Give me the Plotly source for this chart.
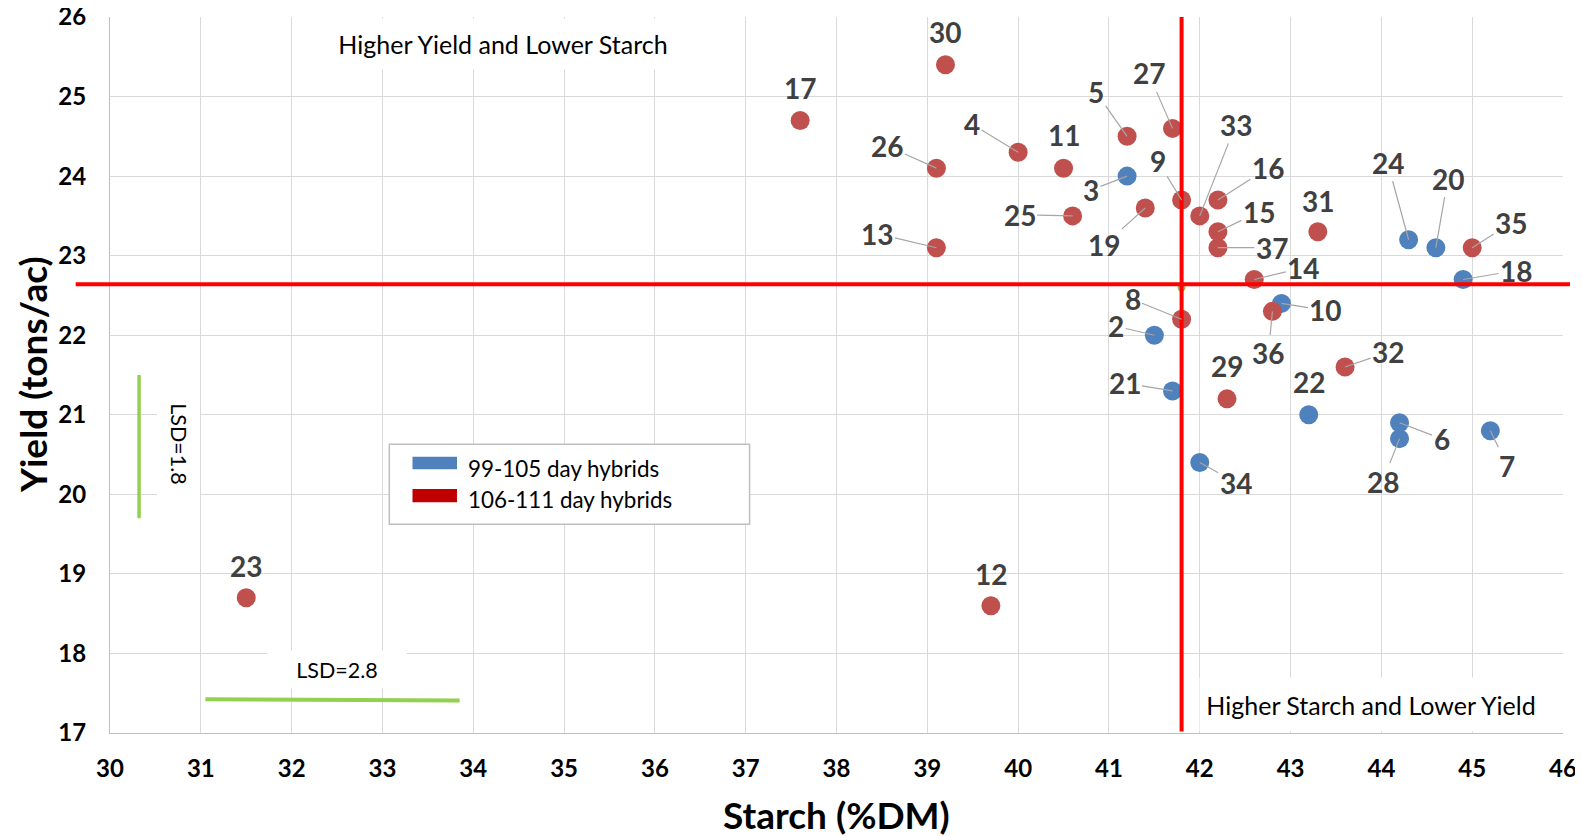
import plotly.graph_objects as go

# ---------------- data ----------------
# 99-105 day hybrids
early_ids = [3, 10, 2, 18, 21, 22, 6, 28, 7, 34, 24, 20]
early_starch = [41.2, 42.9, 41.5, 44.9, 41.7, 43.2, 44.2, 44.2, 45.2, 42.0, 44.3, 44.6]
early_yield = [24.0, 22.4, 22.0, 22.7, 21.3, 21.0, 20.9, 20.7, 20.8, 20.4, 23.2, 23.1]

# 106-111 day hybrids
late_ids = [5, 27, 11, 9, 16, 19, 33, 25, 15, 37, 31, 14, 36, 8, 29, 32,
            30, 17, 4, 26, 13, 35, 23, 12]
late_starch = [41.2, 41.7, 40.5, 41.8, 42.2, 41.4, 42.0, 40.6, 42.2, 42.2, 43.3, 42.6,
               42.8, 41.8, 42.3, 43.6, 39.2, 37.6, 40.0, 39.1, 39.1, 45.0, 31.5, 39.7]
late_yield = [24.5, 24.6, 24.1, 23.7, 23.7, 23.6, 23.5, 23.5, 23.3, 23.1, 23.3, 22.7,
              22.3, 22.2, 21.2, 21.6, 25.4, 24.7, 24.3, 24.1, 23.1, 23.1, 18.7, 18.6]

mean_starch = 41.8
mean_yield = 22.64
lsd_starch = 2.8
lsd_yield = 1.8
lsd_starch_start = 31.05
lsd_starch_level = 17.42
lsd_yield_start = 19.7
lsd_yield_level = 30.32

x_ticks = list(range(30, 47))
y_ticks = list(range(17, 27))

series_names = ["99-105 day hybrids", "106-111 day hybrids"]

# label placement (pixel offsets from point, leader line shown?)
label_offsets = {
    3: (-36, 14, True), 10: (44, 7, True), 2: (-38, -9, True), 18: (53, -9, True),
    21: (-48, -8, True), 22: (0, -33, False), 6: (42, 16, True), 28: (-17, 43, True),
    7: (17, 35, True), 34: (36, 20, True), 24: (-21, -77, True), 20: (12, -69, True),
    5: (-31, -44, True), 27: (-24, -55, True), 11: (0, -33, False), 9: (-24, -39, True),
    16: (50, -32, True), 19: (-41, 37, True), 33: (36, -91, True), 25: (-53, -1, True),
    15: (41, -20, True), 37: (54, 0, True), 31: (0, -31, False), 14: (49, -12, True),
    36: (-4, 42, True), 8: (-49, -20, True), 29: (0, -33, False), 32: (43, -15, True),
    30: (0, -33, False), 17: (0, -32, False), 4: (-46, -28, True), 26: (-49, -22, True),
    13: (-59, -14, True), 35: (39, -25, True), 23: (0, -32, False), 12: (0, -32, False),
}

BLUE = "#4F81BD"
RED = "#C0504D"
LEGEND_RED = "#C00000"
GREEN = "#92D050"
FONT = "Lato"

# page offset of the figure (body margin) and plot-area geometry in page px
PAGE = 8
SL, ST, W, H = 110, 17, 1453, 716
FIG_W, FIG_H = 1583, 836


def px(xp):
    return (xp - SL) / W


def py(yp):
    return 1 - (yp - ST) / H


fig = go.Figure()

fig.add_trace(go.Scatter(
    x=[mean_starch], y=[mean_yield - 0.04], mode="markers",
    marker=dict(size=8, color="#9BBB59"), showlegend=False, hoverinfo="skip"))

fig.add_trace(go.Scatter(
    x=early_starch, y=early_yield, mode="markers", name=series_names[0],
    marker=dict(size=19, color=BLUE), showlegend=False))
fig.add_trace(go.Scatter(
    x=late_starch, y=late_yield, mode="markers", name=series_names[1],
    marker=dict(size=19, color=RED), showlegend=False))

annotations = []
for ids, xs, ys in [(early_ids, early_starch, early_yield), (late_ids, late_starch, late_yield)]:
    for i, xv, yv in zip(ids, xs, ys):
        ax, ay, leader = label_offsets[i]
        annotations.append(dict(
            x=xv, y=yv, xref="x", yref="y", text=str(i), showarrow=True,
            ax=ax, ay=ay, arrowhead=0, arrowwidth=1.2, standoff=0,
            arrowcolor="#A6A6A6" if leader else "rgba(0,0,0,0)",
            font=dict(family=FONT, size=28, color="#404040", weight="bold")))


def note(text, xc, yc, w, h, size, angle=0, align="center"):
    return dict(xref="paper", yref="paper", x=px(xc), y=py(yc), xanchor="center",
                yanchor="middle", text=text, showarrow=False, bgcolor="white",
                width=w, height=h, borderpad=0, textangle=angle, align=align,
                font=dict(family=FONT, size=size, color="black"))


# quadrant notes
annotations.append(note("Higher Yield and Lower Starch", 502.5, 44, 360, 50, 25))
annotations.append(note("Higher Starch and Lower Yield", 1371, 704, 342, 53, 25))
# LSD notes
annotations.append(note("LSD=1.8", 179, 443.5, 125, 42, 21.5, angle=90))
annotations.append(note("LSD=2.8", 337, 669.5, 138, 37, 21.5))

# legend texts
for name, yc in [(series_names[0], 469), (series_names[1], 499)]:
    annotations.append(dict(
        xref="paper", yref="paper", x=px(466), y=py(yc),
        xanchor="left", yanchor="middle", text=name, showarrow=False,
        font=dict(family=FONT, size=22.4, color="black")))

# axis titles
annotations.append(dict(
    xref="paper", yref="paper", x=px(32), y=0.5, textangle=-90,
    text="Yield (tons/ac)", showarrow=False, xanchor="center", yanchor="middle",
    font=dict(family=FONT, size=37, color="black", weight="bold")))
annotations.append(dict(
    xref="paper", yref="paper", x=0.5, y=py(815),
    text="Starch (%DM)", showarrow=False, xanchor="center", yanchor="middle",
    font=dict(family=FONT, size=37, color="black", weight="bold")))

shapes = [
    # white patch behind the right part of the lower-right note (extends past plot edge)
    dict(type="rect", xref="paper", yref="paper", x0=px(1540), x1=px(1566),
         y0=py(730.5), y1=py(678), fillcolor="white", line=dict(width=0), layer="above"),
    # mean lines
    dict(type="line", xref="paper", yref="y", x0=px(75.7), x1=px(1570),
         y0=mean_yield, y1=mean_yield, line=dict(color="#FF0000", width=4), layer="above"),
    dict(type="line", xref="x", yref="y", x0=mean_starch, x1=mean_starch,
         y0=17.02, y1=26, line=dict(color="#FF0000", width=4), layer="above"),
    # LSD bars
    dict(type="line", xref="x", yref="y", x0=lsd_yield_level, x1=lsd_yield_level,
         y0=lsd_yield_start, y1=lsd_yield_start + lsd_yield,
         line=dict(color=GREEN, width=3.5), layer="above"),
    dict(type="line", xref="x", yref="y", x0=lsd_starch_start, x1=lsd_starch_start + lsd_starch,
         y0=lsd_starch_level + 0.005, y1=lsd_starch_level - 0.01,
         line=dict(color=GREEN, width=4), layer="above"),
    # legend box
    dict(type="rect", xref="paper", yref="paper",
         x0=px(389.3), x1=px(749.6), y0=py(524.3), y1=py(444.3),
         fillcolor="white", line=dict(color="#BFBFBF", width=1.5), layer="above"),
    dict(type="rect", xref="paper", yref="paper",
         x0=px(412.5), x1=px(457), y0=py(469.3), y1=py(456.7),
         fillcolor=BLUE, line=dict(width=0), layer="above"),
    dict(type="rect", xref="paper", yref="paper",
         x0=px(412.5), x1=px(457), y0=py(502.3), y1=py(489),
         fillcolor=LEGEND_RED, line=dict(width=0), layer="above"),
]

ML, MT = SL - PAGE, ST - PAGE
fig.update_layout(
    width=FIG_W, height=FIG_H,
    margin=dict(l=ML, r=FIG_W - ML - W, t=MT, b=FIG_H - MT - H, autoexpand=False),
    paper_bgcolor="white", plot_bgcolor="white",
    showlegend=False,
    annotations=annotations, shapes=shapes,
    font=dict(family=FONT),
)
fig.update_xaxes(
    range=[30, 46], tickvals=x_ticks, ticktext=[str(v) for v in x_ticks],
    automargin=False, ticklabeloverflow="allow",
    showgrid=True, gridcolor="#D9D9D9", gridwidth=1,
    showline=True, linecolor="#BFBFBF", linewidth=1, zeroline=False,
    ticks="outside", ticklen=14, tickcolor="rgba(0,0,0,0)",
    tickfont=dict(family=FONT, size=24, color="black", weight="bold"))
fig.update_yaxes(
    range=[17, 26], tickvals=y_ticks, ticktext=[str(v) for v in y_ticks],
    automargin=False, ticklabeloverflow="allow",
    showgrid=True, gridcolor="#D9D9D9", gridwidth=1,
    showline=True, linecolor="#BFBFBF", linewidth=1, zeroline=False,
    ticks="outside", ticklen=18, tickcolor="rgba(0,0,0,0)",
    tickfont=dict(family=FONT, size=24, color="black", weight="bold"))

fig.write_html("out.html")
